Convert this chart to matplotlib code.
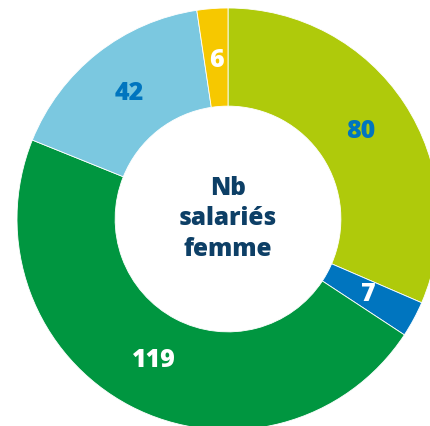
import matplotlib
matplotlib.use("Agg")
import matplotlib.pyplot as plt
import numpy as np

categories = ["A", "B", "C", "D", "E"]
values = [80, 7, 119, 42, 6]
colors = ["#AFCA0B", "#0075BF", "#009640", "#7BC8E0", "#F6C800"]
label_colors = ["#0075BF", "white", "white", "#0075BF", "white"]
center_text = "Nb\nsalariés\nfemme"

plt.rcParams['font.family'] = ['Open Sans', 'DejaVu Sans']

fig = plt.figure(figsize=(4.30, 4.26), dpi=100)
ax = fig.add_axes([0, 0, 1, 1])
R = 1.0
inner = 0.535
wedges, _ = ax.pie(values, colors=colors, startangle=90, counterclock=False,
                   radius=R, wedgeprops=dict(width=R - inner, linewidth=0.6, edgecolor="white"))
rlab = 0.755
for w, v, c in zip(wedges, values, label_colors):
    ang = np.deg2rad((w.theta1 + w.theta2) / 2)
    ax.text(rlab * np.cos(ang), rlab * np.sin(ang), str(v), ha="center", va="center",
            fontsize=18, fontweight=800, color=c)
ax.text(0, 0.0, center_text, ha="center", va="center", fontsize=17.5, fontweight=800,
        color="#0D3F66", linespacing=1.3)
ax.set_xlim(-228 / 211, (430 - 228) / 211)
ax.set_ylim(-(426 - 219) / 211, 219 / 211)
ax.set_aspect("auto")
ax.axis("off")
fig.savefig("out.png", dpi=100)
